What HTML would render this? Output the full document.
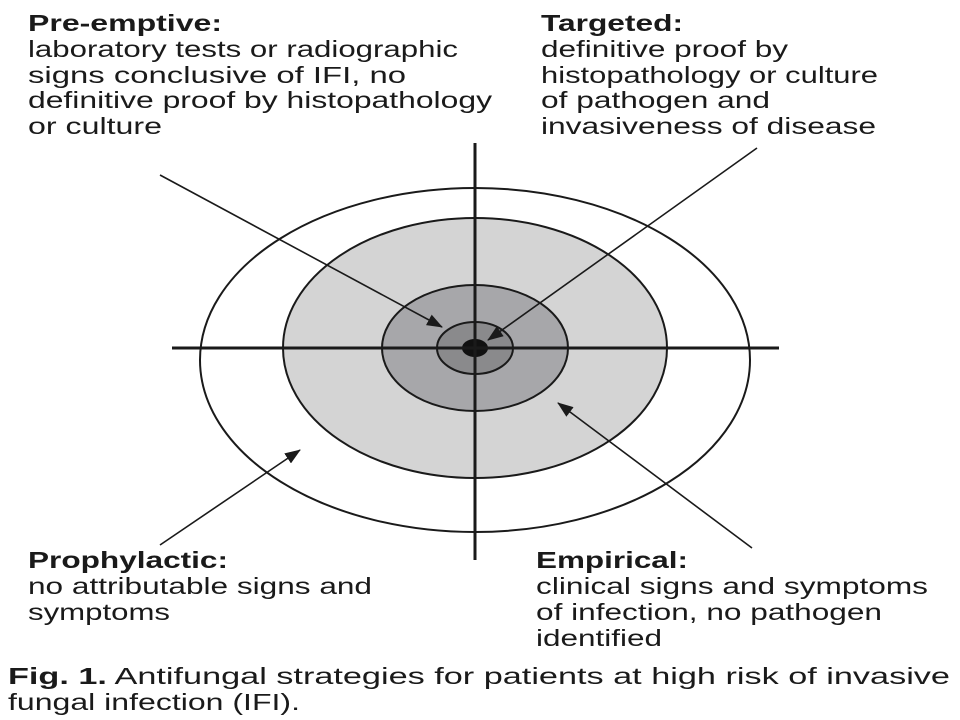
<!DOCTYPE html>
<html><head><meta charset="utf-8"><style>
html,body{margin:0;padding:0;background:#fff;width:960px;height:720px;overflow:hidden}
svg text{font-family:"Liberation Sans",sans-serif;font-size:23px;fill:#1a1a1a}
.b{font-weight:bold}
</style></head><body>
<svg width="960" height="720" viewBox="0 0 960 720" xmlns="http://www.w3.org/2000/svg">
<defs><marker id="a" markerWidth="10" markerHeight="8" refX="9" refY="4" orient="auto" markerUnits="userSpaceOnUse"><path d="M0,0 L14,4 L0,8 z" fill="#1a1a1a" transform="scale(0.75,1)"/></marker>
<marker id="ah" viewBox="0 0 16 12" markerWidth="16" markerHeight="12" refX="15" refY="6" orient="auto" markerUnits="userSpaceOnUse"><path d="M0,0 L16,6 L0,12 z" fill="#1a1a1a"/></marker></defs>
<g stroke="#1a1a1a" stroke-width="2">
<ellipse cx="475" cy="360" rx="275" ry="172" fill="#fff"/>
<ellipse cx="475" cy="348" rx="192" ry="130" fill="#d4d4d4"/>
<ellipse cx="475" cy="348" rx="93" ry="63" fill="#a7a7aa"/>
<ellipse cx="475" cy="348" rx="38" ry="26" fill="#8a8a8c"/>
</g>
<ellipse cx="475" cy="348" rx="13" ry="9" fill="#111"/>
<g stroke="#1a1a1a" stroke-width="3">
<line x1="475" y1="143" x2="475" y2="560"/>
<line x1="172" y1="348" x2="779" y2="348"/>
</g>
<g stroke="#1a1a1a" stroke-width="1.6" marker-end="url(#ah)">
<line x1="160" y1="175" x2="442" y2="327"/>
<line x1="757" y1="148" x2="488" y2="340"/>
<line x1="160" y1="545" x2="300" y2="450"/>
<line x1="752" y1="548" x2="558" y2="403"/>
</g>
<text x="28" y="31" class="b" textLength="194" lengthAdjust="spacingAndGlyphs">Pre-emptive:</text>
<text x="28" y="57" textLength="430" lengthAdjust="spacingAndGlyphs">laboratory tests or radiographic</text>
<text x="28" y="83" textLength="378" lengthAdjust="spacingAndGlyphs">signs conclusive of IFI, no</text>
<text x="28" y="108" textLength="464" lengthAdjust="spacingAndGlyphs">definitive proof by histopathology</text>
<text x="28" y="134" textLength="134" lengthAdjust="spacingAndGlyphs">or culture</text>
<text x="541" y="31" class="b" textLength="142" lengthAdjust="spacingAndGlyphs">Targeted:</text>
<text x="541" y="57" textLength="247" lengthAdjust="spacingAndGlyphs">definitive proof by</text>
<text x="541" y="83" textLength="337" lengthAdjust="spacingAndGlyphs">histopathology or culture</text>
<text x="541" y="108" textLength="229" lengthAdjust="spacingAndGlyphs">of pathogen and</text>
<text x="541" y="134" textLength="335" lengthAdjust="spacingAndGlyphs">invasiveness of disease</text>
<text x="28" y="568" class="b" textLength="200" lengthAdjust="spacingAndGlyphs">Prophylactic:</text>
<text x="28" y="594" textLength="344" lengthAdjust="spacingAndGlyphs">no attributable signs and</text>
<text x="28" y="620" textLength="142" lengthAdjust="spacingAndGlyphs">symptoms</text>
<text x="536" y="568" class="b" textLength="152" lengthAdjust="spacingAndGlyphs">Empirical:</text>
<text x="536" y="594" textLength="392" lengthAdjust="spacingAndGlyphs">clinical signs and symptoms</text>
<text x="536" y="620" textLength="346" lengthAdjust="spacingAndGlyphs">of infection, no pathogen</text>
<text x="536" y="646" textLength="126" lengthAdjust="spacingAndGlyphs">identified</text>
<text x="8" y="684" textLength="942" lengthAdjust="spacingAndGlyphs"><tspan class="b">Fig. 1.</tspan> Antifungal strategies for patients at high risk of invasive</text>
<text x="8" y="710" textLength="292" lengthAdjust="spacingAndGlyphs">fungal infection (IFI).</text>
</svg>
</body></html>
